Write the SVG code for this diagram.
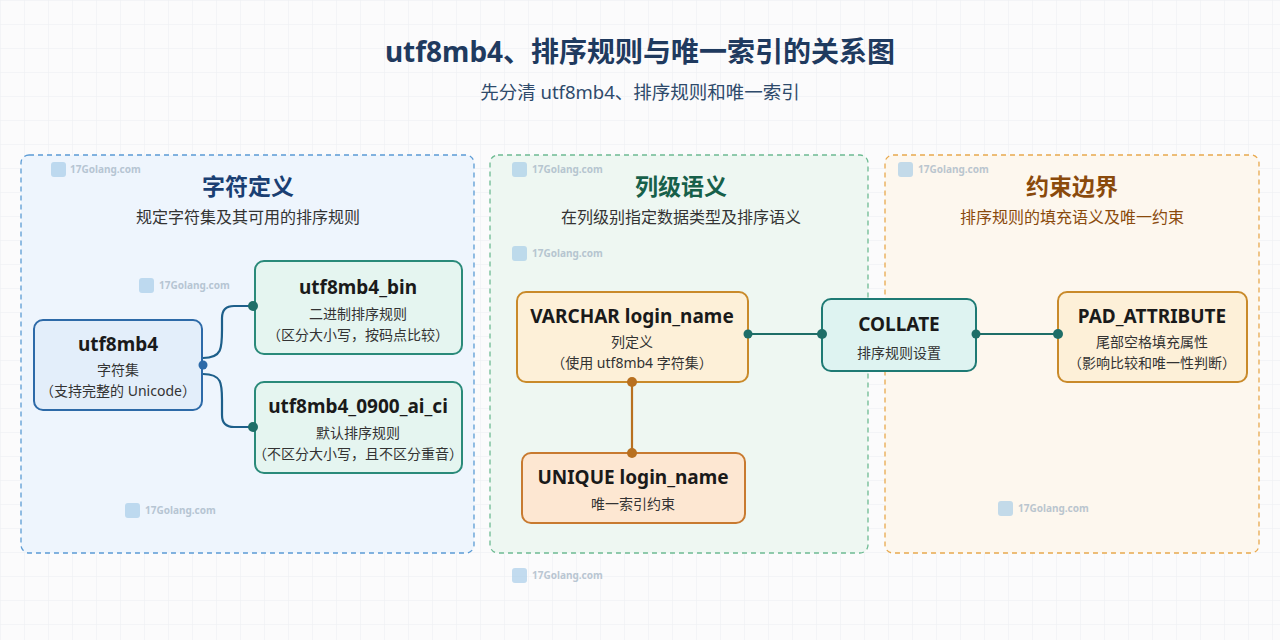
<svg xmlns="http://www.w3.org/2000/svg" width="1280" height="640" viewBox="0 0 1280 640">
<defs>
<pattern id="grid" width="24" height="24" patternUnits="userSpaceOnUse"><path d="M24 0H0V24" fill="none" stroke="#eceef1" stroke-width="1"/></pattern>
<style>
text{font-family:"Noto Sans","Noto Sans CJK SC",sans-serif;text-anchor:middle}
.t{font-size:19px;font-weight:700;fill:#1a1a1a}
.s{font-size:14px;fill:#333}
.wm{font-size:10px;font-weight:700;fill:#9fb1c2;text-anchor:start;opacity:.7}
.wmi{fill:#9cc6e6;opacity:.6}
</style>
</defs>
<rect width="1280" height="640" fill="#fbfbfc"/>
<rect width="1280" height="640" fill="url(#grid)"/>
<text x="640" y="62" font-size="28" font-weight="700" fill="#1f3a5f">utf8mb4、排序规则与唯一索引的关系图</text>
<text x="640" y="99" font-size="18.5" fill="#2e4a6b">先分清 utf8mb4、排序规则和唯一索引</text>

<g id="panel-def">
<rect x="21" y="155" width="453" height="398" rx="8" fill="#eef5fd" stroke="#5b9bd5" stroke-width="1.3" stroke-dasharray="5 4"/>
<text x="248" y="195" font-size="23" font-weight="700" fill="#1a3f73">字符定义</text>
<text x="248" y="223" font-size="16" fill="#333">规定字符集及其可用的排序规则</text>
</g>
<g id="panel-col">
<rect x="490" y="155" width="378" height="398" rx="8" fill="#eef7f2" stroke="#6dbb92" stroke-width="1.3" stroke-dasharray="5 4"/>
<text x="681" y="195" font-size="23" font-weight="700" fill="#17604a">列级语义</text>
<text x="681" y="223" font-size="16" fill="#333">在列级别指定数据类型及排序语义</text>
</g>
<g id="panel-con">
<rect x="885" y="155" width="374" height="398" rx="8" fill="#fdf7ee" stroke="#e8a94e" stroke-width="1.3" stroke-dasharray="5 4"/>
<text x="1072" y="195" font-size="23" font-weight="700" fill="#8a4a0c">约束边界</text>
<text x="1072" y="223" font-size="16" fill="#8a4a0c">排序规则的填充语义及唯一约束</text>
</g>

<g id="watermarks">
<rect class="wmi" x="51" y="162" width="15" height="15" rx="3"/><text class="wm" x="70" y="173">17Golang.com</text>
<rect class="wmi" x="139" y="278" width="15" height="15" rx="3"/><text class="wm" x="159" y="289">17Golang.com</text>
<rect class="wmi" x="125" y="503" width="15" height="15" rx="3"/><text class="wm" x="145" y="514">17Golang.com</text>
<rect class="wmi" x="512" y="162" width="15" height="15" rx="3"/><text class="wm" x="532" y="173">17Golang.com</text>
<rect class="wmi" x="512" y="246" width="15" height="15" rx="3"/><text class="wm" x="532" y="257">17Golang.com</text>
<rect class="wmi" x="512" y="568" width="15" height="15" rx="3"/><text class="wm" x="532" y="579">17Golang.com</text>
<rect class="wmi" x="898" y="162" width="15" height="15" rx="3"/><text class="wm" x="918" y="173">17Golang.com</text>
<rect class="wmi" x="998" y="501" width="15" height="15" rx="3"/><text class="wm" x="1018" y="512">17Golang.com</text>
</g>

<g id="utf8mb4">
<rect x="34" y="320" width="168" height="90" rx="9" fill="#e3eefa" stroke="#2d6aa8" stroke-width="2"/>
<text class="t" x="118" y="351">utf8mb4</text>
<text class="s" x="118" y="375">字符集</text>
<text class="s" x="118" y="396">（支持完整的 Unicode）</text>
</g>
<g id="utf8mb4_bin">
<rect x="255" y="261" width="207" height="93" rx="9" fill="#e5f5f0" stroke="#2a8a7a" stroke-width="2"/>
<text class="t" x="358" y="294">utf8mb4_bin</text>
<text class="s" x="358" y="319">二进制排序规则</text>
<text class="s" x="358" y="340">（区分大小写，按码点比较）</text>
</g>
<g id="utf8mb4_0900_ai_ci">
<rect x="255" y="382" width="207" height="91" rx="9" fill="#e5f5f0" stroke="#2a8a7a" stroke-width="2"/>
<text class="t" x="358" y="413">utf8mb4_0900_ai_ci</text>
<text class="s" x="358" y="438">默认排序规则</text>
<text class="s" x="358" y="459">（不区分大小写，且不区分重音）</text>
</g>
<g id="varchar">
<rect x="517" y="292" width="231" height="90" rx="9" fill="#fdf0d8" stroke="#c98a2a" stroke-width="2"/>
<text class="t" x="632" y="323">VARCHAR login_name</text>
<text class="s" x="632" y="347">列定义</text>
<text class="s" x="632" y="368">（使用 utf8mb4 字符集）</text>
</g>
<g id="unique">
<rect x="522" y="453" width="223" height="70" rx="9" fill="#fde7d2" stroke="#c87a30" stroke-width="2"/>
<text class="t" x="633" y="484">UNIQUE login_name</text>
<text class="s" x="633" y="509">唯一索引约束</text>
</g>
<g id="collate">
<rect x="822" y="299" width="154" height="72" rx="9" fill="#def3f1" stroke="#1e7a74" stroke-width="2"/>
<text class="t" x="899" y="331">COLLATE</text>
<text class="s" x="899" y="358">排序规则设置</text>
</g>
<g id="pad">
<rect x="1058" y="292" width="189" height="90" rx="9" fill="#fdf0d8" stroke="#c98a2a" stroke-width="2"/>
<text class="t" x="1152" y="323">PAD_ATTRIBUTE</text>
<text class="s" x="1152" y="347">尾部空格填充属性</text>
<text class="s" x="1152" y="368">（影响比较和唯一性判断）</text>
</g>

<g id="connectors" fill="none" stroke-width="2.2">
<path d="M203 358C222 358 222 348 222 330V318Q222 306 234 306H253" stroke="#1d5f8a"/>
<path d="M203 374C222 374 222 384 222 400V415Q222 427 234 427H253" stroke="#1d5f8a"/>
<path d="M748 334H822" stroke="#1e6e68"/>
<path d="M976 334H1058" stroke="#1e6e68"/>
<path d="M632 382V453" stroke="#b8701f"/>
<g stroke="none">
<circle cx="203" cy="365" r="4.5" fill="#2d6aa8"/>
<circle cx="253" cy="306" r="5" fill="#1e6e68"/>
<circle cx="253" cy="427" r="5" fill="#1e6e68"/>
<circle cx="748" cy="334" r="4.5" fill="#1e6e68"/>
<circle cx="822" cy="334" r="5" fill="#1e6e68"/>
<circle cx="976" cy="334" r="4.5" fill="#1e6e68"/>
<circle cx="1058" cy="334" r="5" fill="#1e6e68"/>
<circle cx="632" cy="382" r="5" fill="#b8701f"/>
<circle cx="632" cy="453" r="5" fill="#b8701f"/>
</g>
</g>
</svg>
